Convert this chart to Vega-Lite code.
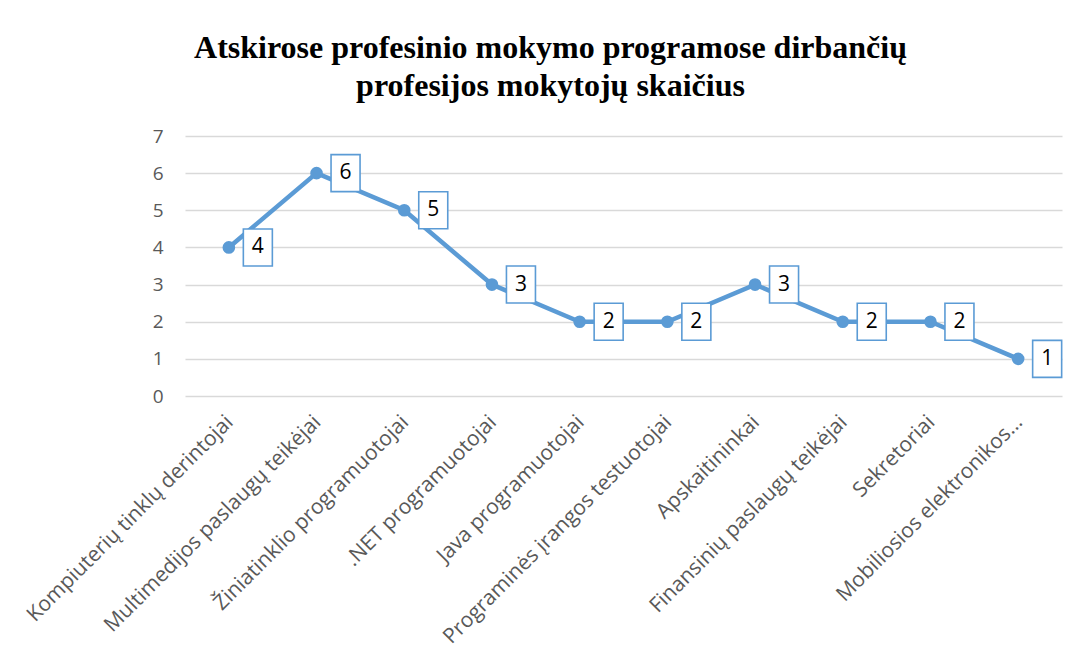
{
  "$schema": "https://vega.github.io/schema/vega-lite/v6.json",
  "autosize": "none",
  "width": 877,
  "height": 260,
  "padding": {"left": 185, "top": 136, "right": 18, "bottom": 268},
  "background": "white",
  "title": {
    "text": ["Atskirose profesinio mokymo programose dirbančių", "profesijos mokytojų skaičius"],
    "font": "Liberation Serif",
    "fontSize": 32,
    "fontWeight": "bold",
    "color": "#000000",
    "lineHeight": 38,
    "anchor": "middle",
    "dx": -73,
    "offset": 24
  },
  "data": {
    "values": [
      {"programa": "Kompiuterių tinklų derintojai", "mokytojai": 4},
      {"programa": "Multimedijos paslaugų teikėjai", "mokytojai": 6},
      {"programa": "Žiniatinklio programuotojai", "mokytojai": 5},
      {"programa": ".NET programuotojai", "mokytojai": 3},
      {"programa": "Java programuotojai", "mokytojai": 2},
      {"programa": "Programinės įrangos testuotojai", "mokytojai": 2},
      {"programa": "Apskaitininkai", "mokytojai": 3},
      {"programa": "Finansinių paslaugų teikėjai", "mokytojai": 2},
      {"programa": "Sekretoriai", "mokytojai": 2},
      {"programa": "Mobiliosios elektronikos…", "mokytojai": 1}
    ]
  },
  "encoding": {
    "x": {
      "field": "programa",
      "type": "nominal",
      "sort": null,
      "title": null,
      "axis": {
        "labelAngle": -45,
        "labelAlign": "right",
        "labelBaseline": "top",
        "labelFont": "Open Sans",
        "labelFontSize": 21,
        "labelColor": "#595959",
        "labelPadding": 15,
        "labelOffset": -7,
        "labelLimit": 500,
        "labelOverlap": false,
        "ticks": false,
        "domain": false,
        "grid": false
      }
    },
    "y": {
      "field": "mokytojai",
      "type": "quantitative",
      "title": null,
      "scale": {"domain": [0, 7], "nice": false},
      "axis": {
        "values": [0, 1, 2, 3, 4, 5, 6, 7],
        "labelFont": "Open Sans",
        "labelFontSize": 19,
        "labelColor": "#595959",
        "labelPadding": 22,
        "ticks": false,
        "domain": false,
        "grid": true,
        "gridColor": "#d9d9d9",
        "gridWidth": 1.3
      }
    }
  },
  "layer": [
    {"mark": {"type": "line", "color": "#5B9BD5", "strokeWidth": 4.5}},
    {"mark": {"type": "point", "filled": true, "color": "#5B9BD5", "size": 160, "opacity": 1}},
    {"mark": {"type": "point", "shape": "M-0.784,-1H0.784V1H-0.784Z", "size": 1369, "filled": false, "fill": "white", "fillOpacity": 1, "stroke": "#5B9BD5", "strokeWidth": 1.6, "opacity": 1, "xOffset": 29}},
    {
      "mark": {"type": "text", "dx": 29, "font": "Open Sans", "fontSize": 21, "color": "#000000", "baseline": "middle", "align": "center"},
      "encoding": {"text": {"field": "mokytojai", "type": "quantitative"}}
    }
  ],
  "config": {"view": {"stroke": null}}
}
